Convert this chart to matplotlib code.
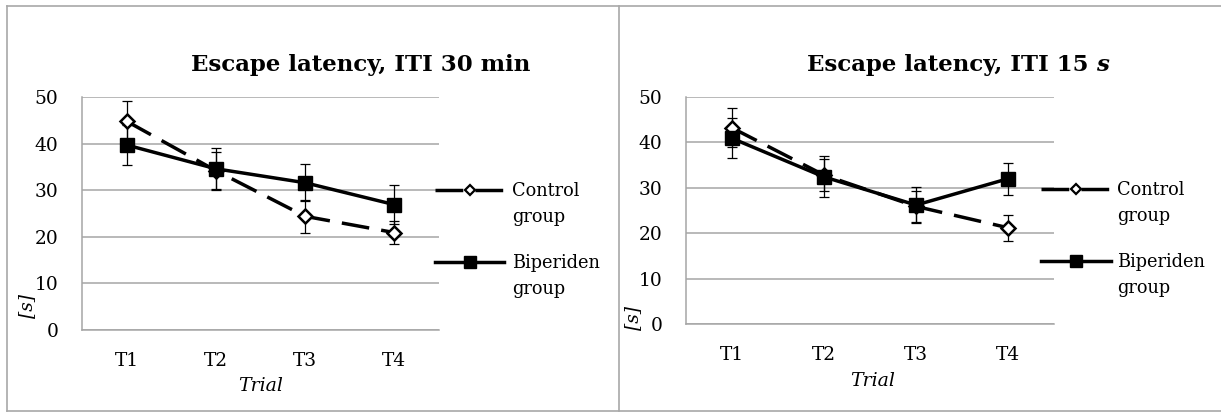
import matplotlib
matplotlib.use("Agg")
import matplotlib.pyplot as plt
from matplotlib.lines import Line2D

categories = ["T1", "T2", "T3", "T4"]
ctrl30 = [44.8, 34.2, 24.4, 20.9]
ctrl30_err = [4.3, 3.9, 3.6, 2.5]
bip30 = [39.7, 34.6, 31.6, 26.9]
bip30_err = [4.3, 4.5, 4.0, 4.2]
ctrl15 = [43.2, 32.8, 25.9, 21.2]
ctrl15_err = [4.3, 3.6, 3.5, 2.9]
bip15 = [40.9, 32.4, 26.2, 32.0]
bip15_err = [4.4, 4.5, 3.9, 3.5]
yticks = [0, 10, 20, 30, 40, 50]
legend_labels = ["Control\ngroup", "Biperiden\ngroup"]

W, H = 1221, 412
fig = plt.figure(figsize=(W / 100, H / 100), dpi=100)
FONT = "DejaVu Serif"
GRID = "#a6a6a6"
BORDER = "#a8a8a8"

def fx(px):
    return px / W

def fy(py):
    return 1 - py / H

# panel borders (left panel lies under the right one)
for xs, ys in [([7, 1222], [6, 6]), ([7, 1222], [411, 411]),
               ([7, 7], [6, 411]), ([619, 619], [6, 411])]:
    fig.add_artist(Line2D([fx(v) for v in xs], [fy(v) for v in ys],
                          transform=fig.transFigure, color=BORDER, lw=1.2))

def make_panel(x0, x1, ytop, ybot, ctrl, cerr, bip, berr):
    ax = fig.add_axes([fx(x0), fy(ybot), fx(x1) - fx(x0), fy(ytop) - fy(ybot)])
    x = list(range(len(categories)))
    ax.errorbar(x, ctrl, yerr=cerr, fmt="none", ecolor="black", elinewidth=0.9,
                capsize=3.8, capthick=0.9, zorder=3)
    ax.errorbar(x, bip, yerr=berr, fmt="none", ecolor="black", elinewidth=0.9,
                capsize=3.8, capthick=0.9, zorder=3)
    ax.plot(x, ctrl, color="black", lw=2.5, dashes=(8, 3.5), marker="D", ms=7,
            mfc="white", mec="black", mew=1.8, zorder=4, clip_on=False)
    ax.plot(x, bip, color="black", lw=2.5, marker="s", ms=10.5, mfc="black",
            mec="black", zorder=5, clip_on=False)
    ax.set_xlim(-0.5, len(categories) - 0.5)
    ax.set_ylim(0, 50)
    ax.set_yticks(yticks)
    ax.set_xticks(x)
    ax.set_xticklabels(categories)
    ax.yaxis.grid(True, color=GRID, lw=1.1)
    ax.set_axisbelow(True)
    for s in ["top", "right"]:
        ax.spines[s].set_visible(False)
    for s in ["left", "bottom"]:
        ax.spines[s].set_color(GRID)
        ax.spines[s].set_linewidth(1.1)
    ax.tick_params(axis="y", length=0, pad=17, labelsize=13.4)
    ax.tick_params(axis="x", length=0, pad=16, labelsize=13.4)
    for lab in ax.get_xticklabels() + ax.get_yticklabels():
        lab.set_fontfamily(FONT)
    return ax

ax1 = make_panel(82, 439, 97, 330, ctrl30, ctrl30_err, bip30, bip30_err)
ax2 = make_panel(686, 1054, 97, 324, ctrl15, ctrl15_err, bip15, bip15_err)

# titles
fig.text(fx(361), fy(65), "Escape latency, ITI 30 min", ha="center", va="center",
         fontfamily=FONT, fontweight="bold", fontsize=16.5)
t_main = fig.text(fx(807), fy(71), "Escape latency, ITI 15 ", ha="left", va="baseline",
                  fontfamily=FONT, fontweight="bold", fontsize=16.5)
t_s = fig.text(0, 0, "s", ha="left", va="baseline", fontfamily=FONT,
               fontweight="bold", fontstyle="italic", fontsize=16.5)

# axis labels
for (cx, cy) in [(261, 386), (873, 381)]:
    fig.text(fx(cx), fy(cy), "Trial", ha="center", va="center", fontfamily=FONT,
             fontstyle="italic", fontsize=13.6)
for (cx, cy) in [(27, 306), (633, 318)]:
    fig.text(fx(cx), fy(cy), "[s]", ha="center", va="center", fontfamily=FONT,
             fontstyle="italic", fontsize=13.4, rotation=90)

# legends
def legend(xl0, xl1, xt, yc, yb):
    xm = (xl0 + xl1) / 2
    fig.add_artist(Line2D([fx(xl0), fx(xm), fx(xl1)], [fy(yc)] * 3, transform=fig.transFigure,
                          color="black", lw=2.5, dashes=(8, 3.5), marker="D", ms=5.5,
                          mfc="white", mec="black", mew=1.6, markevery=[1]))
    fig.add_artist(Line2D([fx(xl0), fx(xm), fx(xl1)], [fy(yb)] * 3, transform=fig.transFigure,
                          color="black", lw=2.5, marker="s", ms=9, mfc="black",
                          mec="black", markevery=[1]))
    for label, y0 in [(legend_labels[0], yc), (legend_labels[1], yb)]:
        for i, line in enumerate(label.split("\n")):
            fig.text(fx(xt), fy(y0 + 6 + 26 * i), line, ha="left", va="baseline",
                     fontfamily=FONT, fontsize=12.8)

legend(435, 504, 512, 190, 262)
legend(1041, 1111, 1117, 189, 261)

# position italic s after main title, then center the pair
fig.canvas.draw()
r = fig.canvas.get_renderer()
bb = t_main.get_window_extent(r)
bs = t_s.get_window_extent(r)
total = bb.width + bs.width
left = 958 - total / 2
t_main.set_x(left / W)
t_s.set_position(((left + bb.width) / W, fy(71)))

fig.savefig("out.png", dpi=100)
